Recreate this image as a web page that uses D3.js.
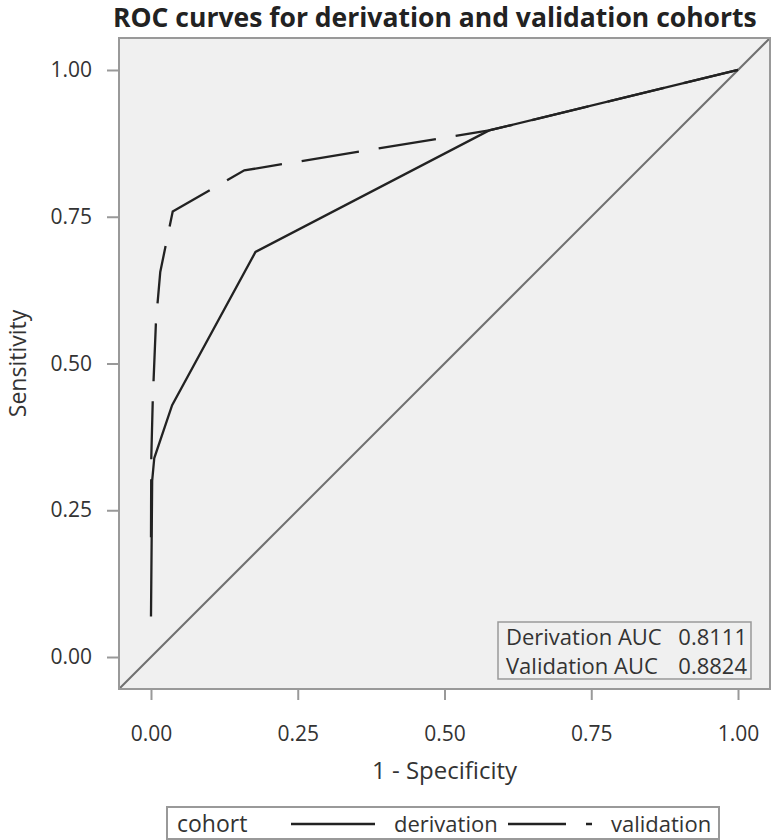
<!DOCTYPE html>
<html>
<head>
<meta charset="utf-8">
<script src="https://cdn.jsdelivr.net/npm/d3@7"></script>
<style>
  body { margin: 0; background: #fff; }
  text { font-family: "Open Sans", "Noto Sans", sans-serif; fill: #333; }
</style>
</head>
<body>
<div id="chart"></div>
<script>
// ROC points
var derivFpr = [0, 0.002, 0.0056, 0.036, 0.178, 0.576, 1];
var derivTpr = [0.069, 0.30, 0.339, 0.429, 0.690, 0.897, 1];
var validFpr = [0, 0.0005, 0.003, 0.0085, 0.0158, 0.037, 0.159, 0.576, 1];
var validTpr = [0.204, 0.339, 0.437, 0.572, 0.656, 0.759, 0.829, 0.897, 1];
var ticks = [0, 0.25, 0.5, 0.75, 1];
var aucLabels = ["Derivation AUC", "Validation AUC"];
var aucValues = ["0.8111", "0.8824"];
var cohorts = ["derivation", "validation"];

var W = 773, H = 840;
var panel = { left: 119, top: 38, width: 651, height: 651 };
var dash = "58,20";

var svg = d3.select("#chart").append("svg")
    .attr("width", W)
    .attr("height", H);

var x = d3.scaleLinear().domain([-0.0545, 1.0545]).range([panel.left, panel.left + panel.width]);
var y = d3.scaleLinear().domain([-0.0545, 1.0545]).range([panel.top + panel.height, panel.top]);

// title
svg.append("text")
    .attr("x", 113)
    .attr("y", 27)
    .attr("font-size", 26.5)
    .attr("font-weight", "bold")
    .style("fill", "#222")
    .text("ROC curves for derivation and validation cohorts");

// panel
svg.append("rect")
    .attr("x", panel.left)
    .attr("y", panel.top)
    .attr("width", panel.width)
    .attr("height", panel.height)
    .attr("fill", "#f0f0f0");

svg.append("clipPath").attr("id", "clip")
    .append("rect")
    .attr("x", panel.left)
    .attr("y", panel.top)
    .attr("width", panel.width)
    .attr("height", panel.height);

// axes
var xAxis = d3.axisBottom(x).tickValues(ticks).tickFormat(d3.format(".2f")).tickSize(11).tickPadding(26);
var yAxis = d3.axisLeft(y).tickValues(ticks).tickFormat(d3.format(".2f")).tickSize(12).tickPadding(15);

var xg = svg.append("g")
    .attr("transform", "translate(0," + (panel.top + panel.height) + ")")
    .call(xAxis);
var yg = svg.append("g")
    .attr("transform", "translate(" + panel.left + ",0)")
    .call(yAxis);

[xg, yg].forEach(function (g) {
    g.select(".domain").remove();
    g.selectAll(".tick line").attr("stroke", "#999").attr("stroke-width", 2);
    g.selectAll(".tick text")
        .attr("font-size", 21)
        .attr("font-family", "'Open Sans', sans-serif")
        .style("fill", "#333");
});

svg.append("text")
    .attr("x", panel.left + panel.width / 2)
    .attr("y", 779)
    .attr("text-anchor", "middle")
    .attr("font-size", 24)
    .text("1 - Specificity");

svg.append("text")
    .attr("transform", "translate(26," + (panel.top + panel.height / 2) + ") rotate(-90)")
    .attr("text-anchor", "middle")
    .attr("font-size", 23)
    .text("Sensitivity");

var plot = svg.append("g").attr("clip-path", "url(#clip)");

// reference diagonal
plot.append("line")
    .attr("x1", x(-0.0545)).attr("y1", y(-0.0545))
    .attr("x2", x(1.0545)).attr("y2", y(1.0545))
    .attr("stroke", "#707070")
    .attr("stroke-width", 2);

var line = d3.line()
    .x(function (d) { return x(d[0]); })
    .y(function (d) { return y(d[1]); });

var deriv = derivFpr.map(function (d, i) { return [d, derivTpr[i]]; });
var valid = validFpr.map(function (d, i) { return [d, validTpr[i]]; });

plot.append("path")
    .datum(deriv)
    .attr("d", line)
    .attr("fill", "none")
    .attr("stroke", "#222")
    .attr("stroke-width", 2.3);

plot.append("path")
    .datum(valid)
    .attr("d", line)
    .attr("fill", "none")
    .attr("stroke", "#222")
    .attr("stroke-width", 2.3)
    .attr("stroke-dasharray", dash);

// frame
svg.append("rect")
    .attr("x", panel.left)
    .attr("y", panel.top)
    .attr("width", panel.width)
    .attr("height", panel.height)
    .attr("fill", "none")
    .attr("stroke", "#999")
    .attr("stroke-width", 2);

// AUC box
var box = svg.append("g").attr("transform", "translate(498,622)");
box.append("rect")
    .attr("width", 253)
    .attr("height", 57)
    .attr("fill", "#f0f0f0")
    .attr("stroke", "#999")
    .attr("stroke-width", 1.5);
box.selectAll(".auc-name")
    .data(aucLabels)
    .enter().append("text")
    .attr("class", "auc-name")
    .attr("x", 8)
    .attr("y", function (d, i) { return 23 + i * 28.5; })
    .attr("font-size", 22)
    .text(function (d) { return d; });
box.selectAll(".auc-val")
    .data(aucValues)
    .enter().append("text")
    .attr("class", "auc-val")
    .attr("x", 249)
    .attr("y", function (d, i) { return 23 + i * 28.5; })
    .attr("text-anchor", "end")
    .attr("font-size", 22)
    .text(function (d) { return d; });

// legend
var legend = svg.append("g").attr("transform", "translate(167,807)");
legend.append("rect")
    .attr("width", 552)
    .attr("height", 32)
    .attr("fill", "#fff")
    .attr("stroke", "#999")
    .attr("stroke-width", 2);
legend.append("text")
    .attr("x", 10)
    .attr("y", 25)
    .attr("font-size", 23)
    .text("cohort");

var keyX = [124, 341];
var keys = legend.selectAll(".key")
    .data(cohorts)
    .enter().append("g")
    .attr("class", "key")
    .attr("transform", function (d, i) { return "translate(" + keyX[i] + ",0)"; });
keys.append("line")
    .attr("x1", 0).attr("x2", 84)
    .attr("y1", 17).attr("y2", 17)
    .attr("stroke", "#222")
    .attr("stroke-width", 2.3)
    .attr("stroke-dasharray", function (d, i) { return i === 1 ? dash : null; });
keys.append("text")
    .attr("x", 103)
    .attr("y", 25)
    .attr("font-size", 22)
    .text(function (d) { return d; });
</script>
</body>
</html>
